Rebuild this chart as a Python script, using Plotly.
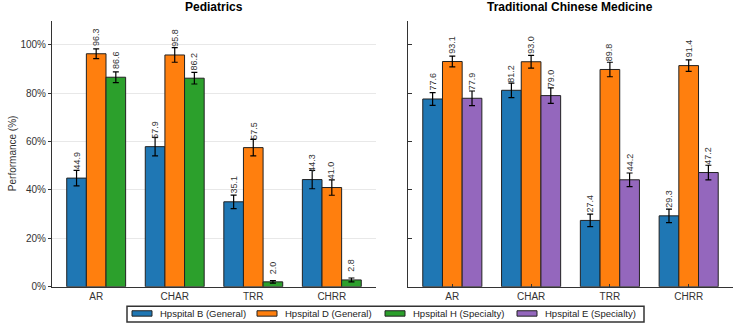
import plotly.graph_objects as go

categories = ["AR", "CHAR", "TRR", "CHRR"]

ped_B = [44.9, 57.9, 35.1, 44.3]
ped_D = [96.3, 95.8, 57.5, 41.0]
ped_H = [86.6, 86.2, 2.0, 2.8]
ped_B_err = [3.2, 3.8, 2.8, 3.8]
ped_D_err = [2.0, 3.0, 3.4, 3.2]
ped_H_err = [2.2, 2.4, 0.5, 0.8]

tcm_B = [77.6, 81.2, 27.4, 29.3]
tcm_D = [93.1, 93.0, 89.8, 91.4]
tcm_E = [77.9, 79.0, 44.2, 47.2]
tcm_B_err = [2.6, 3.0, 2.6, 2.8]
tcm_D_err = [2.2, 2.6, 3.0, 2.4]
tcm_E_err = [3.0, 3.2, 2.8, 3.0]

y_ticks = [0, 20, 40, 60, 80, 100]
y_tick_labels = ["0%", "20%", "40%", "60%", "80%", "100%"]

legend_keys = ["B", "D", "H", "E"]
names = {
    "B": "Hpspital B (General)",
    "D": "Hpspital D (General)",
    "H": "Hpspital H (Specialty)",
    "E": "Hpspital E (Specialty)",
}
colors = {"B": "#1f77b4", "D": "#ff7f0e", "H": "#2ca02c", "E": "#9467bd"}

FONT = "Liberation Sans, Arial, sans-serif"
W, H = 736, 331

fig = go.Figure()

panels = [
    ("x", "y", [("B", ped_B, ped_B_err), ("D", ped_D, ped_D_err), ("H", ped_H, ped_H_err)]),
    ("x2", "y2", [("B", tcm_B, tcm_B_err), ("D", tcm_D, tcm_D_err), ("E", tcm_E, tcm_E_err)]),
]

annotations = []
for xa, ya, series in panels:
    for k, (key, vals, errs) in enumerate(series):
        fig.add_trace(go.Bar(
            x=categories, y=vals, name=names[key], xaxis=xa, yaxis=ya,
            marker=dict(color=colors[key], line=dict(color="#222222", width=1)),
            error_y=dict(type="data", array=errs, visible=True, color="black",
                         thickness=1.2, width=3),
            showlegend=False,
        ))
        off = (k - 1) * 0.25
        for i, v in enumerate(vals):
            annotations.append(dict(
                x=i + off, y=v + 2.5, xref=xa, yref=ya, text=f"{v:.1f}",
                textangle=-90, showarrow=False, xanchor="center", yanchor="bottom",
                font=dict(family=FONT, size=9, color="#333333"),
            ))

x1d = [52 / W, 376 / W]
x2d = [408 / W, 733 / W]
yd = [(H - 292) / H, (H - 21) / H]

def px(xp):
    return xp / W

def py(yp):
    return 1 - yp / H

annotations += [
    dict(text="<b>Pediatrics</b>", x=px(214), y=py(7), xref="paper", yref="paper",
         showarrow=False, font=dict(family=FONT, size=12, color="black"),
         xanchor="center", yanchor="middle"),
    dict(text="<b>Traditional Chinese Medicine</b>", x=px(570), y=py(7), xref="paper",
         yref="paper", showarrow=False, font=dict(family=FONT, size=12, color="black"),
         xanchor="center", yanchor="middle"),
    dict(text="Performance (%)", x=px(12), y=py(156), xref="paper", yref="paper",
         showarrow=False, textangle=-90, font=dict(family=FONT, size=10, color="#333333"),
         xanchor="center", yanchor="middle"),
]

# custom legend (box, swatches, labels)
shapes = [dict(type="rect", xref="paper", yref="paper", x0=px(127), x1=px(644),
               y0=py(328), y1=py(312), line=dict(color="#333333", width=1.5),
               fillcolor="white", layer="above")]
sw_x = [132, 257, 385, 517]
for key, sx in zip(legend_keys, sw_x):
    shapes.append(dict(type="rect", xref="paper", yref="paper", x0=px(sx), x1=px(sx + 20),
                       y0=py(322), y1=py(316.5), line=dict(color="#222222", width=1),
                       fillcolor=colors[key], layer="above"))
    annotations.append(dict(text=names[key], x=px(sx + 26), y=py(319.5), xref="paper",
                            yref="paper", showarrow=False, xanchor="left", yanchor="middle",
                            font=dict(family=FONT, size=9.5, color="#222222")))

axis_common = dict(showline=True, linecolor="#333333", linewidth=1,
                   tickfont=dict(family=FONT, size=10, color="#333333"))

fig.update_layout(
    width=W, height=H,
    margin=dict(l=0, r=0, t=0, b=0),
    paper_bgcolor="white", plot_bgcolor="white",
    barmode="group", bargap=0.25, bargroupgap=0,
    font=dict(family=FONT, color="#333333"),
    showlegend=False,
    xaxis=dict(domain=x1d, anchor="y", range=[-0.5625, 3.5625], ticks="",
               showgrid=False, **axis_common),
    xaxis2=dict(domain=x2d, anchor="y2", range=[-0.5625, 3.5625], ticks="inside",
                ticklen=3, tickcolor="#333333", showgrid=False, **axis_common),
    yaxis=dict(domain=yd, anchor="x", range=[0, 110], tickvals=y_ticks,
               ticktext=y_tick_labels, ticks="outside", ticklen=3, tickcolor="#333333",
               showgrid=True, gridcolor="#e8e8e8", gridwidth=0.8, zeroline=False,
               **axis_common),
    yaxis2=dict(domain=yd, anchor="x2", range=[0, 110], tickvals=y_ticks,
                showticklabels=False, ticks="inside", ticklen=4, tickcolor="#333333",
                showgrid=False, zeroline=False, **axis_common),
    shapes=shapes,
    annotations=annotations,
)

fig.write_html("out.html")
